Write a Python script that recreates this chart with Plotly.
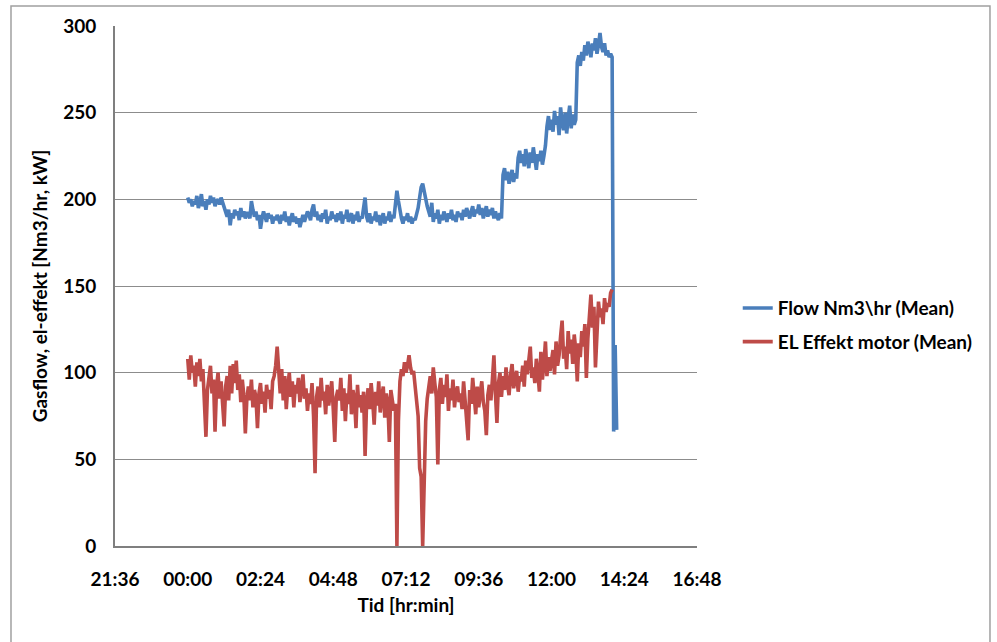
import pandas as pd
import plotly.graph_objects as go

# Gas flow, one reading every 3 minutes from 00:00 (rows = one hour each)
flow = [
    201, 198, 200, 196, 199, 197, 202, 195, 198, 203, 196, 199, 194, 200, 197, 202, 198, 201, 196, 199,
    200, 197, 201, 198, 196, 193, 190, 194, 185, 192, 189, 194, 191, 193, 188, 195, 190, 193, 189, 192,
    192, 189, 199, 194, 190, 193, 188, 191, 183, 189, 193, 190, 187, 192, 189, 191, 186, 190, 188, 191,
    189, 186, 191, 188, 193, 187, 190, 185, 189, 192, 187, 190, 186, 189, 184, 188, 191, 187, 190, 193,
    191, 188, 194, 197, 190, 193, 188, 191, 187, 192, 189, 194, 186, 190, 188, 193, 189, 191, 187, 192,
    188, 193, 186, 191, 189, 194, 187, 190, 192, 186, 191, 188, 193, 187, 190, 189, 194, 201, 190, 187,
    192, 186, 190, 188, 193, 187, 191, 185, 189, 192, 186, 190, 188, 193, 187, 191, 189, 196, 205, 199,
    193, 189, 186, 190, 188, 192, 187, 190, 186, 189, 188, 191, 195, 201, 207, 209, 204, 199, 196, 193,
    190, 198, 187, 192, 189, 194, 186, 191, 188, 193, 190, 187, 192, 189, 194, 188, 191, 187, 193, 190,
    192, 188, 194, 190, 195, 191, 189, 193, 196, 190, 194, 192, 197, 191, 195, 189, 193, 196, 190, 194,
    191, 195, 189, 193, 190, 188, 192, 189, 214, 218, 211, 216, 209, 214, 217, 210, 215, 212, 224, 228,
    221, 226, 219, 229, 223, 218, 227, 221, 230, 224, 217, 226, 222, 228, 220, 225, 231, 242, 248, 240,
    246, 239, 251, 243, 248, 237, 253, 244, 240, 250, 238, 247, 254, 241, 249, 243, 246, 279, 283, 277,
    285, 280, 289, 283, 291, 287, 282, 290, 286, 293, 284, 289, 296, 288, 285, 290, 283, 286, 282, 284,
    282, 66, 116, 67,
]

# Motor electric power, same 3-minute sampling
power = [
    108, 96, 110, 100, 104, 92, 106, 98, 108, 95, 102, 80, 63, 90, 99, 104, 88, 96, 66, 92,
    100, 85, 95, 78, 69, 92, 98, 84, 104, 88, 105, 94, 107, 90, 99, 83, 96, 87, 65, 85,
    92, 84, 96, 80, 90, 86, 68, 88, 94, 82, 89, 77, 93, 85, 90, 79, 95, 98, 104, 115,
    96, 88, 102, 84, 98, 79, 92, 100, 86, 95, 80, 93, 88, 97, 83, 90, 99, 85, 91, 78,
    88, 82, 94, 75, 42, 86, 92, 80, 97, 84, 89, 76, 93, 81, 87, 95, 79, 60, 86, 90,
    84, 97, 78, 91, 72, 88, 82, 99, 76, 90, 85, 68, 93, 80, 87, 77, 89, 52, 83, 91,
    79, 94, 84, 70, 89, 81, 95, 77, 86, 92, 74, 88, 83, 60, 90, 85, 78, 82, 0, 72,
    95, 102, 98, 106, 100, 104, 110, 103, 99, 101, 92, 84, 75, 45, 40, 0, 38, 72, 85, 92,
    98, 88, 103, 94, 86, 47, 90, 97, 82, 93, 86, 99, 78, 91, 84, 96, 80, 89, 92, 83,
    88, 79, 95, 84, 73, 61, 90, 82, 97, 86, 76, 92, 80, 88, 95, 83, 78, 64, 87, 93,
    84, 96, 110, 88, 71, 94, 100, 86, 98, 90, 103, 93, 87, 99, 105, 91, 96, 101, 89, 98,
    95, 104, 92, 107, 99, 110, 115, 97, 103, 94, 108, 100, 89, 112, 96, 105, 118, 98, 109, 101,
    106, 113, 99, 118, 104, 110, 121, 130, 108, 115, 102, 124, 111, 119, 105, 122, 113, 95, 117, 109,
    124, 115, 128, 97, 120, 134, 145, 126, 138, 103, 129, 141, 132, 137, 128, 143, 135, 140, 138, 146,
    148,
]

series_names = ["Flow Nm3\\hr (Mean)", "EL Effekt motor (Mean)"]
series_colors = ["#4A7EBB", "#BE4B48"]
y_ticks = [0, 50, 100, 150, 200, 250, 300]

start = pd.Timestamp("2012-01-02 00:00")
t_flow = pd.date_range(start, periods=len(flow), freq="3min")
t_power = pd.date_range(start, periods=len(power), freq="3min")

FONT = "Lato, 'Open Sans', sans-serif"
FS = 19

fig = go.Figure()
for i, (t, vals) in enumerate([(t_flow, flow), (t_power, power)]):
    fig.add_trace(go.Scatter(
        x=t, y=vals, mode="lines", name=series_names[i],
        legendgroup=f"g{i}",
        line=dict(color=series_colors[i], width=3.6),
    ))

fig.update_layout(
    width=997, height=642,
    margin=dict(l=115, r=300, t=26, b=96),
    paper_bgcolor="white", plot_bgcolor="white",
    font=dict(family=FONT, size=FS, color="black", weight="bold"),
    showlegend=True,
    legend=dict(
        x=1.07, xanchor="left", y=0.494, yanchor="top",
        bgcolor="rgba(0,0,0,0)", itemwidth=30, tracegroupgap=6,
        font=dict(family=FONT, size=FS, color="black", weight="bold"),
    ),
    xaxis=dict(
        type="date",
        range=["2012-01-01 21:36", "2012-01-02 16:48"],
        tick0="2012-01-01 21:36", dtick=8640000, tickformat="%H:%M",
        showgrid=False, zeroline=False,
        showline=True, linecolor="#7F7F7F", linewidth=2,
        ticks="", ticklabelstandoff=15,
        tickfont=dict(family=FONT, size=FS, weight="bold"),
        title=dict(text="Tid [hr:min]", standoff=10,
                   font=dict(family=FONT, size=FS, weight="bold")),
    ),
    yaxis=dict(
        range=[0, 300], tickvals=y_ticks,
        showgrid=True, gridcolor="#8C8C8C", gridwidth=1,
        zeroline=False,
        showline=True, linecolor="#7F7F7F", linewidth=2,
        ticks="", ticklabelstandoff=13,
        tickfont=dict(family=FONT, size=FS, weight="bold"),
        title=dict(text="Gasflow, el-effekt [Nm3/hr, kW]", standoff=10,
                   font=dict(family=FONT, size=FS, weight="bold")),
    ),
)

# Chart-area frame
fig.add_shape(type="rect", xref="paper", yref="paper",
              x0=-0.1787, x1=1.5034, y0=-0.20, y1=1.0385,
              line=dict(color="#A0A0A0", width=1.5), fillcolor="rgba(0,0,0,0)",
              layer="below")

fig.write_html("out.html")
